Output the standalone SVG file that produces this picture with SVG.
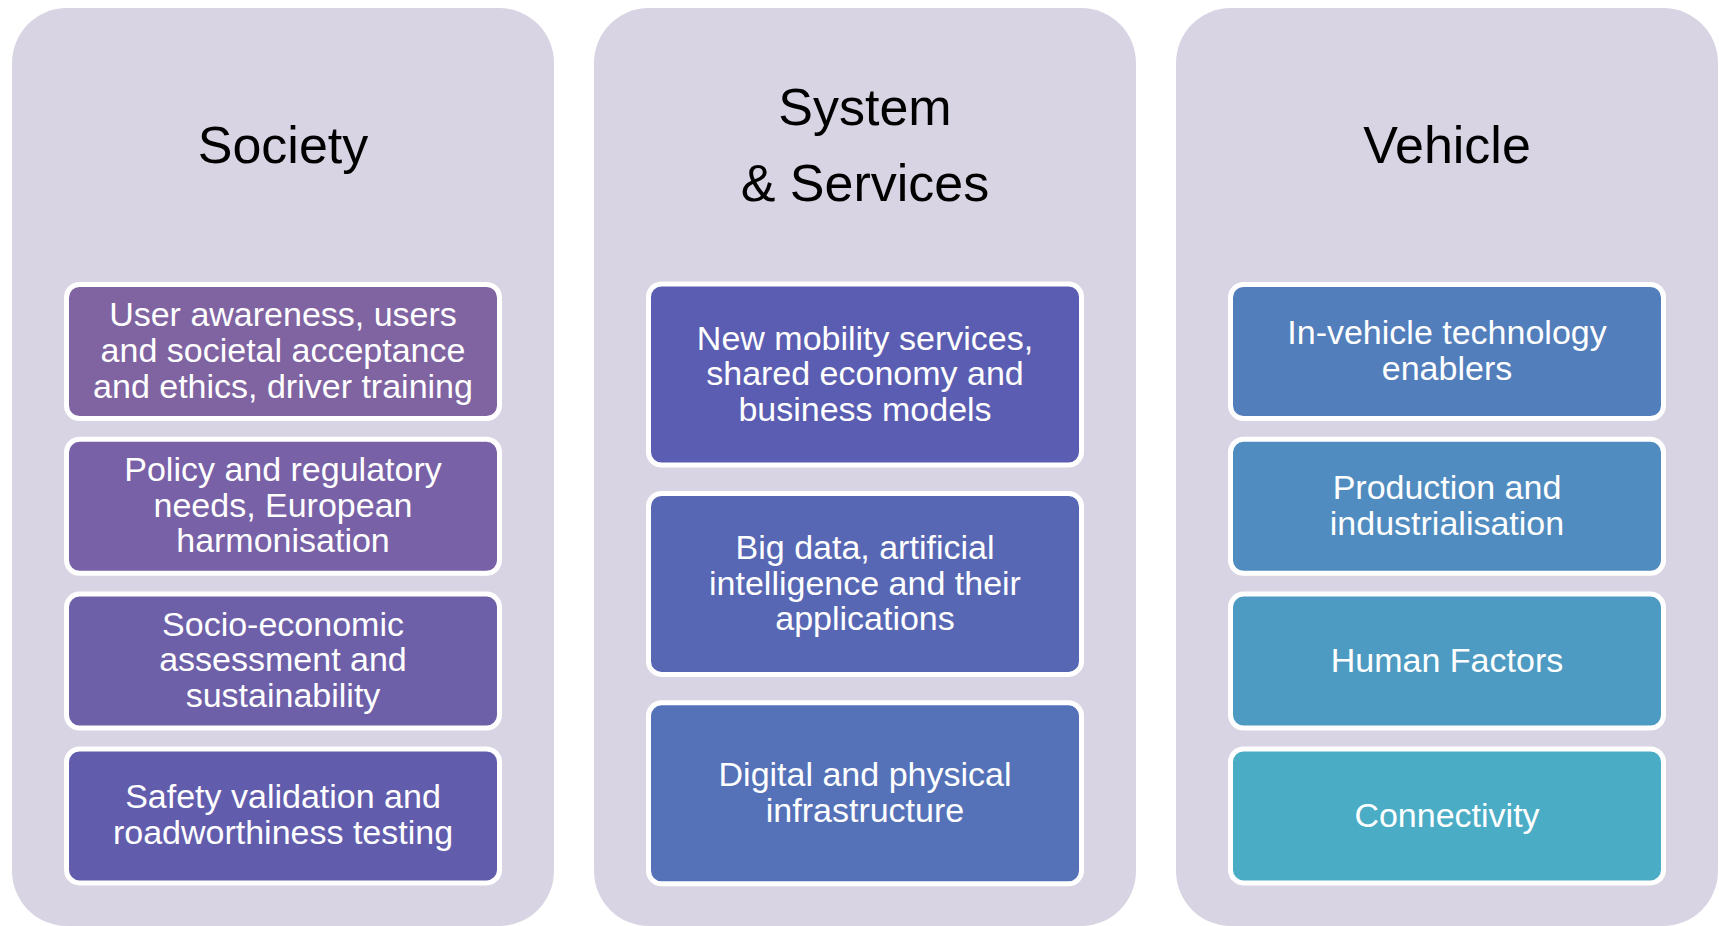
<svg xmlns="http://www.w3.org/2000/svg" width="1719" height="926" viewBox="0 0 1719 926">
<style>
.panel{fill:#D8D4E3;}
.title{font-family:"Liberation Sans",Arial,sans-serif;font-size:52px;fill:#000;text-anchor:middle;}
.box{stroke:#FFFFFF;stroke-width:5;}
.lbl{font-family:"Liberation Sans",Arial,sans-serif;font-size:34px;fill:#FFFFFF;text-anchor:middle;}
</style>
<rect width="1719" height="926" fill="#FFFFFF"/>
<g id="panel-society">
<rect class="panel" x="12" y="8" width="542" height="918" rx="55" ry="55"/>
<text class="title" x="283" y="163">Society</text>
</g>
<g id="panel-system">
<rect class="panel" x="594" y="8" width="542" height="918" rx="55" ry="55"/>
<text class="title" x="865" y="125">System</text>
<text class="title" x="865" y="201">&amp; Services</text>
</g>
<g id="panel-vehicle">
<rect class="panel" x="1176" y="8" width="542" height="918" rx="55" ry="55"/>
<text class="title" x="1447" y="163">Vehicle</text>
</g>
<g id="connectors"/>
<g id="soc-1">
<rect class="box" x="66.5" y="284.5" width="433" height="134" rx="13" fill="#8064A2"/>
<text class="lbl" x="283" y="326.1">User awareness, users</text>
<text class="lbl" x="283" y="361.8">and societal acceptance</text>
<text class="lbl" x="283" y="397.5">and ethics, driver training</text>
</g>
<g id="soc-2">
<rect class="box" x="66.5" y="439.3" width="433" height="134" rx="13" fill="#7861A6"/>
<text class="lbl" x="283" y="480.9">Policy and regulatory</text>
<text class="lbl" x="283" y="516.6">needs, European</text>
<text class="lbl" x="283" y="552.3">harmonisation</text>
</g>
<g id="soc-3">
<rect class="box" x="66.5" y="594.1" width="433" height="134" rx="13" fill="#6E5FA9"/>
<text class="lbl" x="283" y="635.7">Socio-economic</text>
<text class="lbl" x="283" y="671.4">assessment and</text>
<text class="lbl" x="283" y="707.1">sustainability</text>
</g>
<g id="soc-4">
<rect class="box" x="66.5" y="748.9" width="433" height="134" rx="13" fill="#625CAD"/>
<text class="lbl" x="283" y="808.4">Safety validation and</text>
<text class="lbl" x="283" y="844.1">roadworthiness testing</text>
</g>
<g id="sys-1">
<rect class="box" x="648.5" y="284" width="433" height="181" rx="13" fill="#5A5DB1"/>
<text class="lbl" x="865" y="349.5">New mobility services,</text>
<text class="lbl" x="865" y="385.2">shared economy and</text>
<text class="lbl" x="865" y="420.9">business models</text>
</g>
<g id="sys-2">
<rect class="box" x="648.5" y="493.4" width="433" height="181" rx="13" fill="#5767B4"/>
<text class="lbl" x="865" y="558.9">Big data, artificial</text>
<text class="lbl" x="865" y="594.6">intelligence and their</text>
<text class="lbl" x="865" y="630.3">applications</text>
</g>
<g id="sys-3">
<rect class="box" x="648.5" y="702.8" width="433" height="181" rx="13" fill="#5572B8"/>
<text class="lbl" x="865" y="786.2">Digital and physical</text>
<text class="lbl" x="865" y="821.9">infrastructure</text>
</g>
<g id="veh-1">
<rect class="box" x="1230.5" y="284.5" width="433" height="134" rx="13" fill="#527EBB"/>
<text class="lbl" x="1447" y="344">In-vehicle technology</text>
<text class="lbl" x="1447" y="379.7">enablers</text>
</g>
<g id="veh-2">
<rect class="box" x="1230.5" y="439.3" width="433" height="134" rx="13" fill="#508CBF"/>
<text class="lbl" x="1447" y="498.8">Production and</text>
<text class="lbl" x="1447" y="534.5">industrialisation</text>
</g>
<g id="veh-3">
<rect class="box" x="1230.5" y="594.1" width="433" height="134" rx="13" fill="#4D9BC2"/>
<text class="lbl" x="1447" y="671.6">Human Factors</text>
</g>
<g id="veh-4">
<rect class="box" x="1230.5" y="748.9" width="433" height="134" rx="13" fill="#4BACC6"/>
<text class="lbl" x="1447" y="826.5">Connectivity</text>
</g>
</svg>
